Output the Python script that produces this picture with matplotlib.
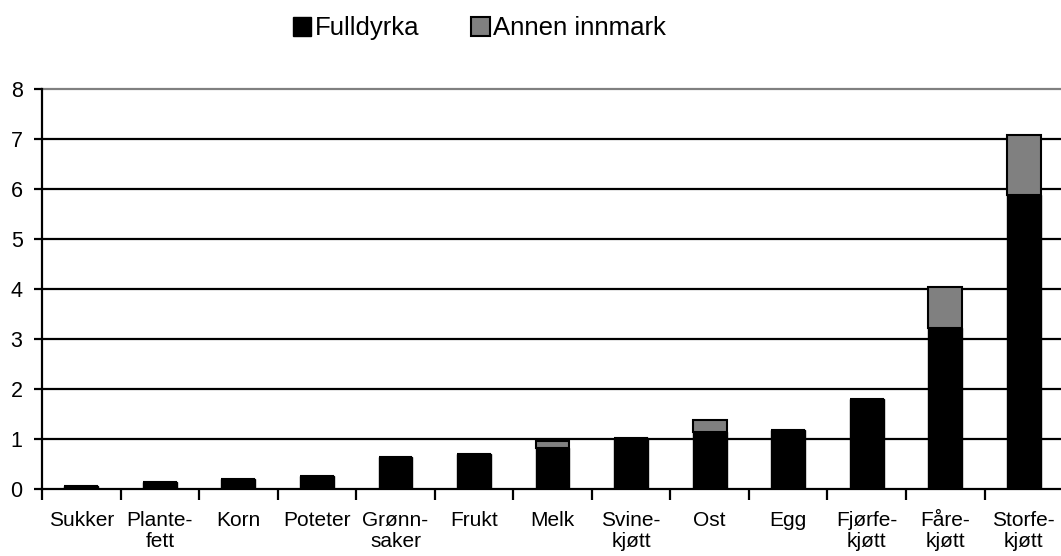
import matplotlib
matplotlib.use("Agg")
import matplotlib.pyplot as plt
import numpy as np

categories = ["Sukker", "Plante-\nfett", "Korn", "Poteter", "Grønn-\nsaker", "Frukt", "Melk",
              "Svine-\nkjøtt", "Ost", "Egg", "Fjørfe-\nkjøtt", "Fåre-\nkjøtt", "Storfe-\nkjøtt"]
fulldyrka = [0.07, 0.14, 0.21, 0.27, 0.65, 0.71, 0.82, 1.03, 1.15, 1.19, 1.80, 3.22, 5.89]
annen_innmark = [0.0, 0.0, 0.0, 0.0, 0.0, 0.0, 0.15, 0.0, 0.23, 0.0, 0.0, 0.83, 1.19]
yticks = [0, 1, 2, 3, 4, 5, 6, 7, 8]

plt.rcParams['font.family'] = ['Liberation Sans', 'DejaVu Sans']

fig = plt.figure(figsize=(10.61, 5.56), dpi=100)
ax = fig.add_axes([42/1061, 1-489/556, 1-42/1061 + 0.002, (489-89)/556])

x = np.arange(len(categories))
w = 0.43
ax.bar(x, fulldyrka, w, color="black", edgecolor="black", linewidth=1.0,
       label="Fulldyrka", zorder=3)
ax.bar(x, annen_innmark, w, bottom=fulldyrka, color="#808080", edgecolor="black",
       linewidth=1.5, label="Annen innmark", zorder=3)

ax.set_xlim(-0.5, len(categories) - 0.5)
ax.set_ylim(0, 8)
ax.set_yticks(yticks)
ax.set_yticklabels([str(v) for v in yticks], fontsize=15.5)
for v in yticks[1:-1]:
    ax.axhline(v, color="black", linewidth=1.6, zorder=1)
ax.axhline(8, color="#808080", linewidth=1.6, zorder=1, clip_on=False)

ax.set_xticks(x)
ax.set_xticklabels(categories, fontsize=15, linespacing=1.1)
ax.set_xticks(np.arange(len(categories) + 1) - 0.5, minor=True)
ax.tick_params(axis="x", which="major", length=0, pad=16)
ax.tick_params(axis="x", which="minor", length=8, width=1.6, direction="out")
ax.tick_params(axis="y", length=6, width=1.6, direction="out", pad=8)

for s in ["top", "right"]:
    ax.spines[s].set_visible(False)
ax.spines["left"].set_linewidth(1.6)
ax.spines["bottom"].set_linewidth(1.6)

leg = fig.legend(loc="upper center", bbox_to_anchor=(0.452, 1.012), ncol=2, frameon=False,
                 fontsize=18.5, handlelength=0.72, handleheight=0.72, handletextpad=0.15,
                 columnspacing=2.0)

fig.savefig("out.png", dpi=100)
